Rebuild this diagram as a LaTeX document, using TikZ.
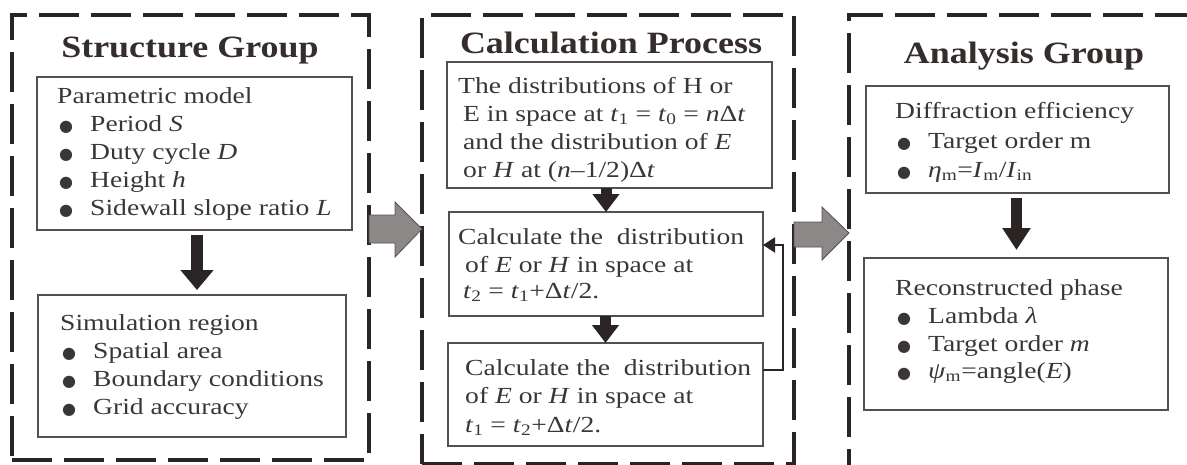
\documentclass[tikz,border=0pt]{standalone}
\usepackage{fontspec}
\setmainfont{Liberation Serif}
\newfontfamily\bodyfont[FakeStretch=1.2]{Liberation Serif}
\newfontfamily\titlefont[FakeStretch=1.16]{Liberation Serif}
\newfontfamily\symfont{DejaVu Sans}
\usetikzlibrary{arrows.meta}
\definecolor{dk}{HTML}{2B2424}
\definecolor{bx}{HTML}{555050}
\definecolor{tx}{HTML}{3B3636}
\definecolor{tt}{HTML}{352C2C}
\definecolor{gr}{HTML}{8C8888}
\newcommand\bul{\makebox[31pt][l]{{\symfont\fontsize{16}{16}\selectfont ●}}}
\newcommand\mi[1]{\textit{#1}}
\newcommand\sub[1]{\textsubscript{#1}}
\begin{document}
\begin{tikzpicture}[x=1pt,y=-1pt,
  grp/.style={draw=dk, line width=3.5pt, dash pattern=on 40pt off 12pt, inner sep=0, outer sep=0, anchor=north west},
  box/.style={draw=bx, line width=1.6pt, inner sep=0, outer sep=0, anchor=north west},
  txt/.style={anchor=base west, inner sep=0, font=\bodyfont\fontsize{23}{28}\selectfont, text=tx},
  ttl/.style={anchor=base, inner sep=0, font=\titlefont\bfseries\fontsize{31}{36}\selectfont, text=tt},
  blk/.style={draw=dk, line width=11.5pt, -{Triangle[width=32pt,length=20pt]}},
  blks/.style={draw=dk, line width=11pt, -{Triangle[width=26pt,length=18pt]}},
  fb/.style={draw=dk, line width=2.2pt, -{Triangle[width=15pt,length=12pt]}},
  garrow/.style={fill=gr, draw=bx, line width=0.8pt, line join=miter}
]
\useasboundingbox (0,0) rectangle (1187,464);
\clip (0,0) rectangle (1187,464);

% dashed groups
\node[grp, minimum width=357, minimum height=445] (g1) at (12,15) {};
\node[grp, minimum width=372, minimum height=449] (g2) at (422,15) {};
\node[grp, minimum width=380, minimum height=470] (g3) at (849,15) {};

% titles
\node[ttl] (t1) at (190,57) {Structure Group};
\node[ttl] (t2) at (611,53) {Calculation Process};
\node[ttl] (t3) at (1024,63) {Analysis Group};

% structure group boxes
\node[box, minimum width=315, minimum height=153] (p1) at (37,77) {};
\node[box, minimum width=308, minimum height=142] (p2) at (38,295) {};
\node[txt] (p1a) at (57,103) {Parametric model};
\node[txt] (p1b) at (59,131) {\bul Period \mi{S}};
\node[txt] (p1c) at (59,159) {\bul Duty cycle \mi{D}};
\node[txt] (p1d) at (59,187) {\bul Height \mi{h}};
\node[txt] (p1e) at (59,215) {\bul Sidewall slope ratio \mi{L}};
\node[txt] (p2a) at (60,330) {Simulation region};
\node[txt] (p2b) at (62,358) {\bul Spatial area};
\node[txt] (p2c) at (62,386) {\bul Boundary conditions};
\node[txt] (p2d) at (62,414) {\bul Grid accuracy};
\draw[blk, shorten <=5pt, shorten >=5pt] ([xshift=2.5pt]p1.south) -- ([xshift=2.5pt]p1.south |- p2.north);

% calculation process boxes
\node[box, minimum width=325, minimum height=126] (m1) at (447,62) {};
\node[box, minimum width=314, minimum height=104] (m2) at (449,212) {};
\node[box, minimum width=315, minimum height=103] (m3) at (448,343) {};
\node[txt] (m1a) at (458,93) {The distributions of H or};
\node[txt] (m1b) at (463,121) {E in space at \mi{t}\sub{1} = \mi{t}\sub{0} = \mi{n}Δ\mi{t}};
\node[txt] (m1c) at (463,149) {and the distribution of \mi{E}};
\node[txt] (m1d) at (463,177) {or \mi{H} at (\mi{n}–1/2)Δ\mi{t}};
\node[txt] (m2a) at (458,244) {Calculate the~ distribution};
\node[txt] (m2b) at (465,272) {of \mi{E} or \mi{H} in space at};
\node[txt] (m2c) at (463,298) {\mi{t}\sub{2} = \mi{t}\sub{1}+Δ\mi{t}/2.};
\node[txt] (m3a) at (465,375) {Calculate the~ distribution};
\node[txt] (m3b) at (465,403) {of \mi{E} or \mi{H} in space at};
\node[txt] (m3c) at (465,432) {\mi{t}\sub{1} = \mi{t}\sub{2}+Δ\mi{t}/2.};
\draw[blks] (m2.north |- m1.south) -- (m2.north);
\draw[blks] (m3.north |- m2.south) -- (m3.north);
\draw[fb] ([yshift=24.5pt]m3.east) -- ++(20,0) |- ([yshift=19pt]m2.east);

% analysis group boxes
\node[box, minimum width=303, minimum height=107] (r1) at (866,86) {};
\node[box, minimum width=304, minimum height=152] (r2) at (864,258) {};
\node[txt] (r1a) at (895,118) {Diffraction efficiency};
\node[txt] (r1b) at (897,148) {\bul Target order m};
\node[txt] (r1c) at (897,177) {\bul \mi{η}\sub{m}=\mi{I}\sub{m}/\mi{I}\sub{in}};
\node[txt] (r2a) at (895,295) {Reconstructed phase};
\node[txt] (r2b) at (897,323) {\bul Lambda \mi{λ}};
\node[txt] (r2c) at (897,351) {\bul Target order \mi{m}};
\node[txt] (r2d) at (897,378) {\bul \mi{ψ}\sub{m}=angle(\mi{E})};
\draw[blk, -{Triangle[width=27pt,length=22pt]}, line width=11pt, shorten <=5pt, shorten >=8pt] ([xshift=-1pt]r1.south) -- ([xshift=-1pt]r1.south |- r2.north);

% gray block arrows between groups
\path[garrow] (g1.east |- 0,215) -- (395,215) -- (395,202) -- (g2.west |- 0,229) -- (395,257) -- (395,243) -- (g1.east |- 0,243) -- cycle;
\path[garrow] (g2.east |- 0,222) -- (822,222) -- (822,207) -- (g3.west |- 0,233) -- (822,260) -- (822,247) -- (g2.east |- 0,247) -- cycle;
\end{tikzpicture}
\end{document}
